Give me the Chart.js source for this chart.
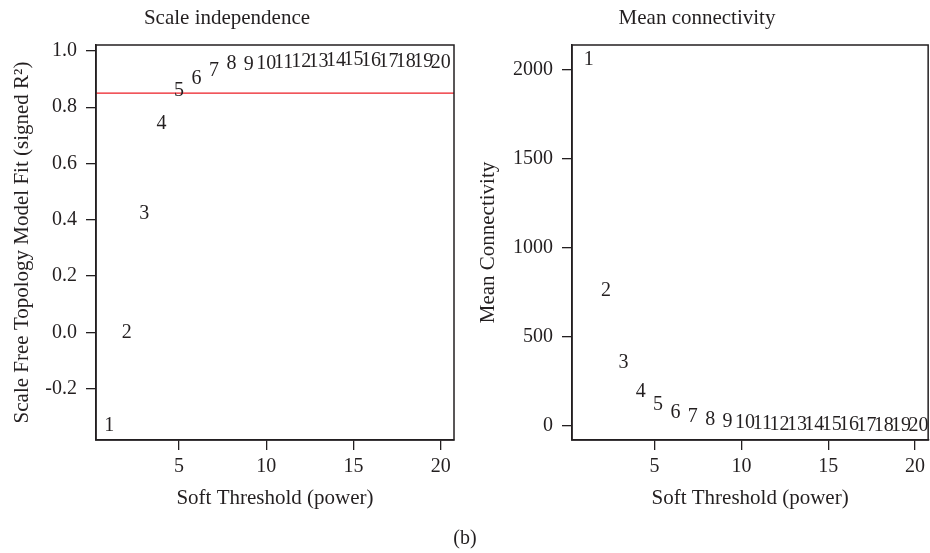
<!DOCTYPE html>
<html>
<head>
<meta charset="utf-8">
<script src="https://cdn.jsdelivr.net/npm/chart.js@4"></script>
<style>
  body { margin: 0; background: #fff; }
  #wrap { position: relative; width: 930px; height: 553px; }
  canvas { position: absolute; top: 0; }
  #leftChart { left: 0; }
  #rightChart { left: 465px; }
  #caption { position: absolute; left: 0; width: 930px; top: 526px; text-align: center;
             font: 20px "Liberation Serif", serif; color: #231f20; }
</style>
</head>
<body>
<div id="wrap">
  <canvas id="leftChart" width="465" height="553"></canvas>
  <canvas id="rightChart" width="465" height="553"></canvas>
  <div id="caption">(b)</div>
</div>
<script>
// soft threshold powers tested
const powers = [1, 2, 3, 4, 5, 6, 7, 8, 9, 10, 11, 12, 13, 14, 15, 16, 17, 18, 19, 20];
// scale free topology fit, signed R^2
const fitIndex = [-0.33, 0.00, 0.42, 0.74, 0.86, 0.90, 0.93, 0.954, 0.95, 0.954,
                  0.957, 0.96, 0.96, 0.964, 0.97, 0.964, 0.962, 0.96, 0.96, 0.957];
// mean connectivity
const meanK = [2056, 758, 354, 191, 118, 73, 52, 34, 22, 16,
               12, 9, 7, 6, 5, 4, 3, 3, 2, 2];
const cutoff = 0.85;

const powerTicks = [5, 10, 15, 20];
const fitTicks = [-0.2, 0.0, 0.2, 0.4, 0.6, 0.8, 1.0];
const kTicks = [0, 500, 1000, 1500, 2000];

const ink = '#231f20';
const serif = '"Liberation Serif", "Times New Roman", serif';

// R style: box round the plot, numbers written at the points
const boxAndLabels = {
  id: 'boxAndLabels',
  afterDatasetsDraw(chart, args, opts) {
    const ctx = chart.ctx;
    const meta = chart.getDatasetMeta(0);
    const dx = opts.dx || 0;
    ctx.save();
    ctx.fillStyle = ink;
    ctx.font = '20px ' + serif;
    ctx.textAlign = 'center';
    ctx.textBaseline = 'middle';
    meta.data.forEach((pt, i) => {
      ctx.fillText(String(powers[i]), pt.x + dx, pt.y);
    });
    ctx.restore();
  },
  afterDraw(chart) {
    const a = chart.chartArea;
    const ctx = chart.ctx;
    ctx.save();
    ctx.strokeStyle = ink;
    ctx.lineWidth = 1.5;
    ctx.strokeRect(a.left, a.top, a.right - a.left, a.bottom - a.top);
    ctx.restore();
  }
};

function makePanel(canvasId, opts) {
  const datasets = [{
    data: powers.map((p, i) => ({ x: p, y: opts.values[i] })),
    pointRadius: 0,
    showLine: false
  }];
  if (opts.cutoff !== undefined) {
    datasets.push({
      data: [{ x: 0.24, y: opts.cutoff }, { x: 20.76, y: opts.cutoff }],
      showLine: true,
      borderColor: '#ec1c24',
      borderWidth: 1.4,
      pointRadius: 0
    });
  }

  return new Chart(document.getElementById(canvasId), {
    type: 'scatter',
    data: { datasets },
    plugins: [boxAndLabels],
    options: {
      responsive: false,
      animation: false,
      layout: { padding: { top: 0, left: 0, bottom: 0, right: opts.padRight } },
      plugins: {
        legend: { display: false },
        tooltip: { enabled: false },
        boxAndLabels: { dx: opts.labelDx },
        title: {
          display: true,
          text: opts.title,
          color: ink,
          font: { family: serif, size: 21, weight: 'normal' },
          padding: { top: 5.4, bottom: 14.4 }
        }
      },
      scales: {
        x: {
          type: 'linear',
          min: 0.24,
          max: 20.76,
          afterBuildTicks: s => { s.ticks = powerTicks.map(v => ({ value: v })); },
          afterFit: s => { s.height = 113; },
          ticks: { color: ink, font: { family: serif, size: 20 }, padding: 5, maxRotation: 0,
                   callback: v => String(v) },
          grid: { drawOnChartArea: false, tickLength: 10, color: ink, lineWidth: 1.3 },
          border: { color: ink, width: 1.5 },
          title: { display: true, text: 'Soft Threshold (power)', color: ink,
                   font: { family: serif, size: 21 }, padding: { top: 4, bottom: 42.4 } }
        },
        y: {
          type: 'linear',
          min: opts.yMin,
          max: opts.yMax,
          afterBuildTicks: s => { s.ticks = opts.yTicks.map(v => ({ value: v })); },
          afterFit: s => { s.width = opts.yWidth; },
          ticks: { color: ink, font: { family: serif, size: 20 }, padding: 9,
                   callback: opts.fmt },
          grid: { drawOnChartArea: false, tickLength: 10, color: ink, lineWidth: 1.3 },
          border: { color: ink, width: 1.5 },
          title: { display: true, text: opts.yTitle, color: ink,
                   font: { family: serif, size: 21 }, padding: { top: opts.yTitlePad } }
        }
      }
    }
  });
}

makePanel('leftChart', {
  title: 'Scale independence',
  values: fitIndex,
  cutoff: cutoff,
  yMin: -0.382, yMax: 1.021,
  yTicks: fitTicks,
  fmt: v => v.toFixed(1),
  yTitle: 'Scale Free Topology Model Fit (signed R\u00B2)',
  yWidth: 96, yTitlePad: 9.4, padRight: 11, labelDx: 0
});

makePanel('rightChart', {
  title: 'Mean connectivity',
  values: meanK,
  yMin: -79, yMax: 2140,
  yTicks: kTicks,
  fmt: v => String(v),
  yTitle: 'Mean Connectivity',
  yWidth: 107, yTitlePad: 10.4, padRight: 1, labelDx: 3.5
});
</script>
</body>
</html>
